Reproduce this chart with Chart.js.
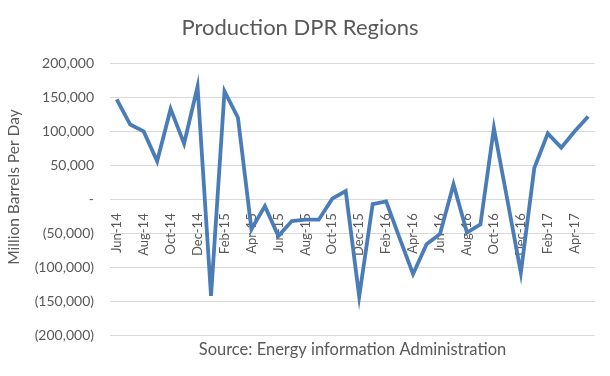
<!DOCTYPE html>
<html>
<head>
<meta charset="utf-8">
<script src="https://cdn.jsdelivr.net/npm/chart.js@4/dist/chart.umd.min.js"></script>
<style>
  html, body { margin: 0; padding: 0; background: #ffffff; }
  #wrap { width: 610px; height: 376px; position: relative; }
</style>
</head>
<body>
<div id="wrap"><canvas id="c" width="610" height="376"></canvas></div>
<script>
const months = ["Jun-14","Jul-14","Aug-14","Sep-14","Oct-14","Nov-14","Dec-14",
  "Jan-15","Feb-15","Mar-15","Apr-15","May-15","Jun-15","Jul-15","Aug-15","Sep-15","Oct-15","Nov-15","Dec-15",
  "Jan-16","Feb-16","Mar-16","Apr-16","May-16","Jun-16","Jul-16","Aug-16","Sep-16","Oct-16","Nov-16","Dec-16",
  "Jan-17","Feb-17","Mar-17","Apr-17","May-17"];
const production = [147000,110000,100000,56000,133000,82000,166000,
  -142000,159000,120000,-44000,-10000,-54000,-32000,-30000,-30000,1000,12000,-143000,
  -7000,-3000,-57000,-110000,-66000,-51000,22000,-49000,-37000,105000,-1000,-108000,
  46000,97000,76000,100000,122000];
const yTicks = [-200000,-150000,-100000,-50000,0,50000,100000,150000,200000];
const yAxisTitle = "Million Barrels Per Day";

const FONT = "Lato, 'Open Sans', sans-serif";
const GRAY = "#595959";

function fmt(v) {
  if (v === 0) return "-";
  const s = Math.abs(v).toLocaleString("en-US");
  return v < 0 ? "(" + s + ")" : s;
}

const yTitlePlugin = {
  id: "yTitlePlugin",
  afterDraw(chart) {
    const ctx = chart.ctx;
    ctx.save();
    ctx.translate(14, 187);
    ctx.rotate(-Math.PI / 2);
    ctx.font = "15.5px " + FONT;
    ctx.fillStyle = GRAY;
    ctx.textAlign = "center";
    ctx.textBaseline = "middle";
    ctx.fillText(yAxisTitle, 0, 0);
    ctx.restore();
  }
};

new Chart(document.getElementById("c"), {
  type: "line",
  data: {
    labels: months,
    datasets: [{
      label: "Production DPR Regions",
      data: production,
      borderColor: "#4A7DB8",
      borderWidth: 3.8,
      pointRadius: 0,
      tension: 0,
      fill: false
    }]
  },
  plugins: [yTitlePlugin],
  options: {
    responsive: false,
    animation: false,
    layout: { padding: { left: 0, right: 10, top: 0, bottom: 0 } },
    plugins: {
      legend: { display: false },
      tooltip: { enabled: false },
      title: {
        display: true,
        text: "Production DPR Regions",
        color: GRAY,
        font: { family: FONT, size: 22, weight: "normal" },
        padding: { top: 15, bottom: 22 }
      },
      subtitle: {
        display: true,
        position: "bottom",
        fullSize: false,
        text: "Source: Energy information Administration",
        color: GRAY,
        font: { family: FONT, size: 16.5, weight: "normal" },
        padding: { top: 5, bottom: 16 }
      }
    },
    scales: {
      x: {
        position: { y: 0 },
        offset: true,
        grid: { display: false },
        border: { display: false },
        ticks: {
          autoSkip: false,
          maxRotation: 90,
          minRotation: 90,
          padding: 6,
          color: GRAY,
          font: { family: FONT, size: 13 },
          callback: function(val, idx) { return idx % 2 === 0 ? months[idx] : ""; }
        }
      },
      y: {
        min: -200000,
        max: 200000,
        afterBuildTicks: function(scale) { scale.ticks = yTicks.map(v => ({ value: v })); },
        afterFit: function(scale) { scale.width = 110; },
        grid: { color: "#D9D9D9", lineWidth: 1, drawTicks: false },
        border: { display: false },
        ticks: {
          padding: 16,
          color: GRAY,
          font: { family: FONT, size: 14 },
          callback: function(v) { return fmt(v); }
        }
      }
    }
  }
});
</script>
</body>
</html>
